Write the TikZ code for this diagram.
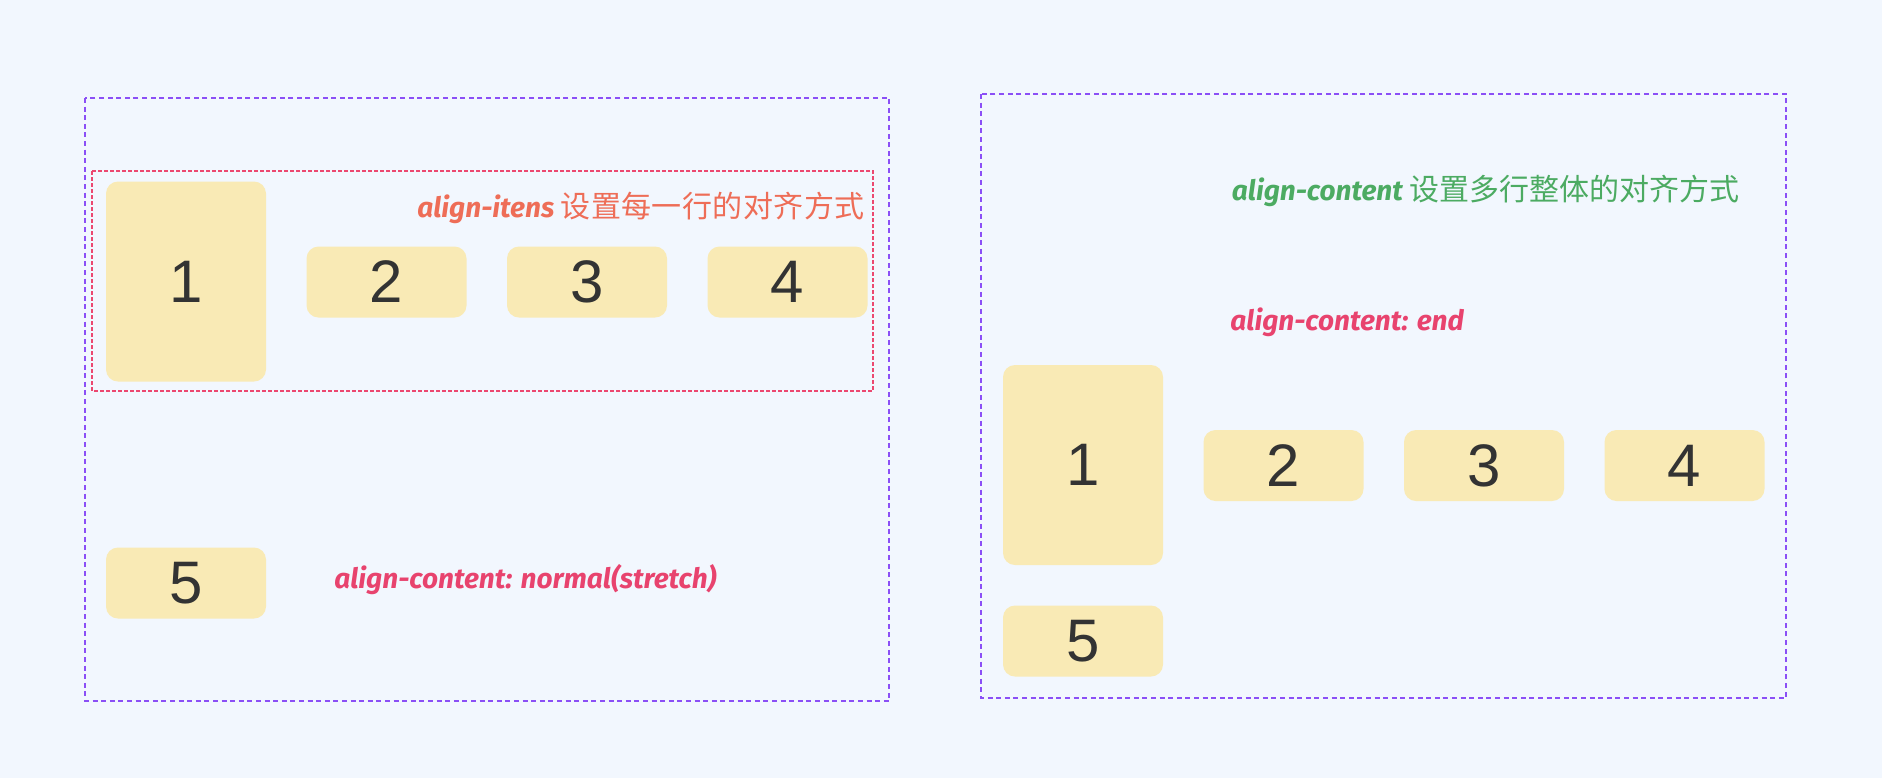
\documentclass[tikz,border=0pt]{standalone}
\usepackage{fontspec}
\setmainfont{Liberation Sans}
\newfontfamily\hand{Fira Sans}
\newfontfamily\cjk{Noto Sans CJK SC}[LetterSpace=1.5]
\newfontfamily\cjktight{Noto Sans CJK SC}
\usepackage{xcolor}
\usepackage{tikz}
\definecolor{pagebg}{RGB}{242,247,254}
\definecolor{itemfill}{RGB}{249,234,181}
\definecolor{digit}{RGB}{51,51,51}
\definecolor{framepurple}{RGB}{139,79,246}
\definecolor{linepink}{RGB}{236,72,112}
\definecolor{noteorange}{RGB}{238,109,87}
\definecolor{notegreen}{RGB}{76,171,98}
\definecolor{notepink}{RGB}{232,67,110}

\begin{document}
\begin{tikzpicture}[x=0.5pt,y=-0.5pt,
  item/.style={fill=itemfill,rounded corners=6pt,minimum width=80pt,minimum height=35.5pt,inner sep=0pt,text=digit,font=\fontsize{30}{30}\selectfont},
  tall/.style={item,minimum height=100pt},
  frame/.style={draw=framepurple,line width=1.1pt,dash pattern=on 2.5pt off 1.8pt},
  rowline/.style={draw=linepink,line width=1pt,dash pattern=on 1.8pt off 1.2pt},
  note/.style={anchor=base west,inner sep=0pt,font=\hand\bfseries\itshape\fontsize{14}{14}\selectfont}]
\fill[pagebg] (0,0) rectangle (1882,778);
\useasboundingbox (0,0) rectangle (1882,778);

% left: align-content normal(stretch)
\draw[frame] (85,98) rectangle (889,701);
\draw[rowline] (92,171) rectangle (873,391);
\node[tall] (l1) at (186,281.5) {1};
\node[item] (l2) at (386.5,282) {2};
\node[item] (l3) at (587,282) {3};
\node[item] (l4) at (787.5,282) {4};
\node[item] (l5) at (186,583) {5};
\node[note,text=noteorange] (itemsnote) at (417,217) {align-itens {\cjk\mdseries\upshape\fontsize{15}{15}\selectfont 设置每一行的对齐方式}};
\node[note,text=notepink] (stretchnote) at (334,588) {align-content: normal(stretch)};

% right: align-content end
\draw[frame] (981,94) rectangle (1786,698);
\node[tall] (r1) at (1083,465) {1};
\node[item] (r2) at (1283.5,465.5) {2};
\node[item] (r3) at (1484,465.5) {3};
\node[item] (r4) at (1684.5,465.5) {4};
\node[item] (r5) at (1083,641) {5};
\node[note,text=notegreen] (contentnote) at (1231.5,200) {align-content {\cjktight\mdseries\upshape\fontsize{15}{15}\selectfont 设置多行整体的对齐方式}};
\node[note,text=notepink] (endnote) at (1230,330) {align-content: end};
\end{tikzpicture}
\end{document}
